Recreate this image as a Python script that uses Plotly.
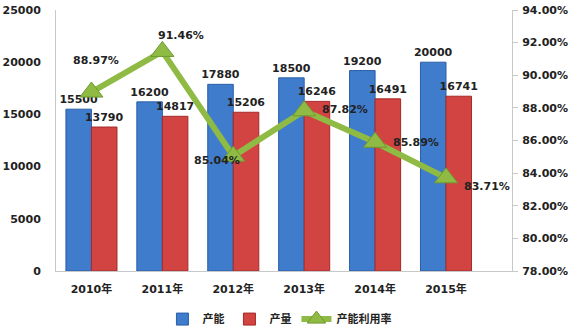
import plotly.graph_objects as go

years = ["2010年", "2011年", "2012年", "2013年", "2014年", "2015年"]
capacity = [15500, 16200, 17880, 18500, 19200, 20000]
output = [13790, 14817, 15206, 16246, 16491, 16741]
utilization = [88.97, 91.46, 85.04, 87.82, 85.89, 83.71]

# label offsets (px) for utilization labels
util_shift = [(5, 32), (19, 16), (-16, -4), (41, 1), (41, 0), (41, -9)]

FONT = "DejaVu Sans, Noto Sans CJK SC"
font = dict(family=FONT, size=11, color="#222222", weight="bold")

fig = go.Figure()
fig.add_trace(go.Bar(
    x=years, y=capacity, name="产能",
    marker=dict(color="#3f7ccc", line=dict(color="#2a5ea8", width=1)),
    text=[str(v) for v in capacity], textposition="outside",
    textfont=font, cliponaxis=False, constraintext="none",
))
fig.add_trace(go.Bar(
    x=years, y=output, name="产量",
    marker=dict(color="#d24442", line=dict(color="#a52a28", width=1)),
    text=[str(v) for v in output], textposition="outside",
    textfont=font, cliponaxis=False, constraintext="none",
))
fig.add_trace(go.Scatter(
    x=years, y=utilization, name="产能利用率", yaxis="y2",
    mode="lines+markers",
    line=dict(color="#8fbb45", width=6),
    marker=dict(symbol="triangle-up", size=20, color="#8fbb45",
                line=dict(color="#6f9a30", width=1)),
    cliponaxis=False,
))

for yr, u, (dx, dy) in zip(years, utilization, util_shift):
    fig.add_annotation(x=yr, y=u, yref="y2", text=f"{u:.2f}%",
                       showarrow=False, xshift=dx, yshift=dy, font=font)

fig.update_layout(
    width=575, height=331,
    margin=dict(l=56, r=63, t=10, b=60, autoexpand=False),
    paper_bgcolor="white", plot_bgcolor="white",
    barmode="group", bargap=0.28, bargroupgap=0,
    font=font,
    showlegend=True,
    legend=dict(orientation="h", x=0.49, xanchor="center",
                yref="container", y=0.036, yanchor="middle",
                font=font, traceorder="normal"),
    xaxis=dict(showline=True, linecolor="#c8c8c8", linewidth=1,
               ticks="", tickfont=font, ticklabelstandoff=8,
               automargin=False),
    yaxis=dict(range=[0, 25000], dtick=5000, showgrid=False,
               showline=True, linecolor="#c8c8c8", linewidth=1,
               ticks="", tickformat="d", tickfont=font,
               ticklabelstandoff=12, automargin=False),
    yaxis2=dict(range=[78, 94], dtick=2, overlaying="y", side="right",
                showgrid=False, showline=True, linecolor="#c8c8c8",
                linewidth=1, ticks="outside", ticklen=5, tickcolor="#c8c8c8",
                tickformat=".2f", ticksuffix="%", tickfont=font,
                ticklabelstandoff=2, automargin=False),
)

fig.write_html("out.html")
